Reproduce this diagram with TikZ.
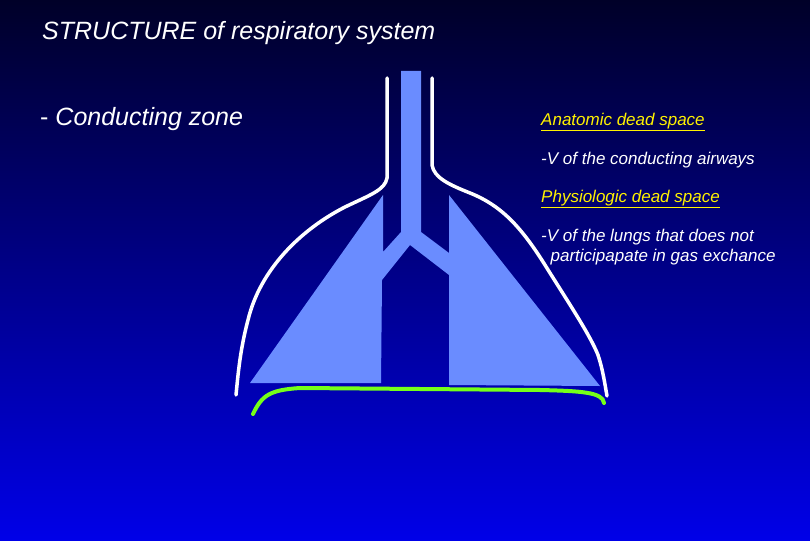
\documentclass[tikz,border=0pt]{standalone}
\usepackage{fontspec}
\setmainfont{Liberation Sans}
\begin{document}
\begin{tikzpicture}[x=1pt,y=-1pt,
  lbl/.style={anchor=west,inner sep=0pt,font=\itshape},
  ylbl/.style={lbl,text=yellow,font=\itshape\fontsize{17}{20}\selectfont},
  wlbl/.style={lbl,text=white,font=\itshape\fontsize{17}{20}\selectfont},
  wall/.style={white,line width=3.5pt,line cap=round},
  diaph/.style={green!60!yellow!90!white,line width=4pt,line cap=round}]
\definecolor{lungblue}{HTML}{6A8CFF}
\definecolor{topc}{HTML}{000028}
\definecolor{botc}{HTML}{0000E8}
\useasboundingbox (0,0) rectangle (810,540);
\shade[top color=topc,bottom color=botc] (0,0) rectangle (810,540);
\node[lbl,text=white,font=\itshape\fontsize{25}{28}\selectfont] (title) at (42,33) {STRUCTURE of respiratory system};
\node[lbl,text=white,font=\fontsize{25}{28}\selectfont] (cz) at (40,119) {- \textit{Conducting zone}};
\node[ylbl] (ads) at (541,122) {\underline{Anatomic dead space}};
\node[wlbl] (v1) at (541,160) {-V of the conducting airways};
\node[ylbl] (pds) at (541,199) {\underline{Physiologic dead space}};
\node[wlbl,align=left,anchor=west] (v2) at (541,247) {-V of the lungs that does not\\\ \ participapate in gas exchance};
\fill[lungblue] (401,71) -- (401,232) -- (383,252) -- (383,195) -- (250,383) -- (381,383)
  -- (382,280) -- (410,245) -- (449,275) -- (449,385) -- (600,386) -- (449,195)
  -- (449,253) -- (421,232) -- (421,71) -- cycle;
\draw[wall] (387,78) -- (387,178) .. controls (385,190) and (370,195) .. (345,207)
  .. controls (300,230) and (260,270) .. (248,320) .. controls (240,350) and (238,375) .. (236,395);
\draw[wall] (432,78) -- (432,165) .. controls (434,178) and (450,185) .. (470,193)
  .. controls (500,205) and (520,225) .. (545,265) .. controls (570,305) and (590,335) .. (598,355)
  .. controls (603,370) and (605,385) .. (607,396);
\draw[diaph] (253,414) .. controls (262,395) and (270,390) .. (300,388)
  -- (540,390) .. controls (580,391) and (603,392) .. (604,403);
\end{tikzpicture}
\end{document}
